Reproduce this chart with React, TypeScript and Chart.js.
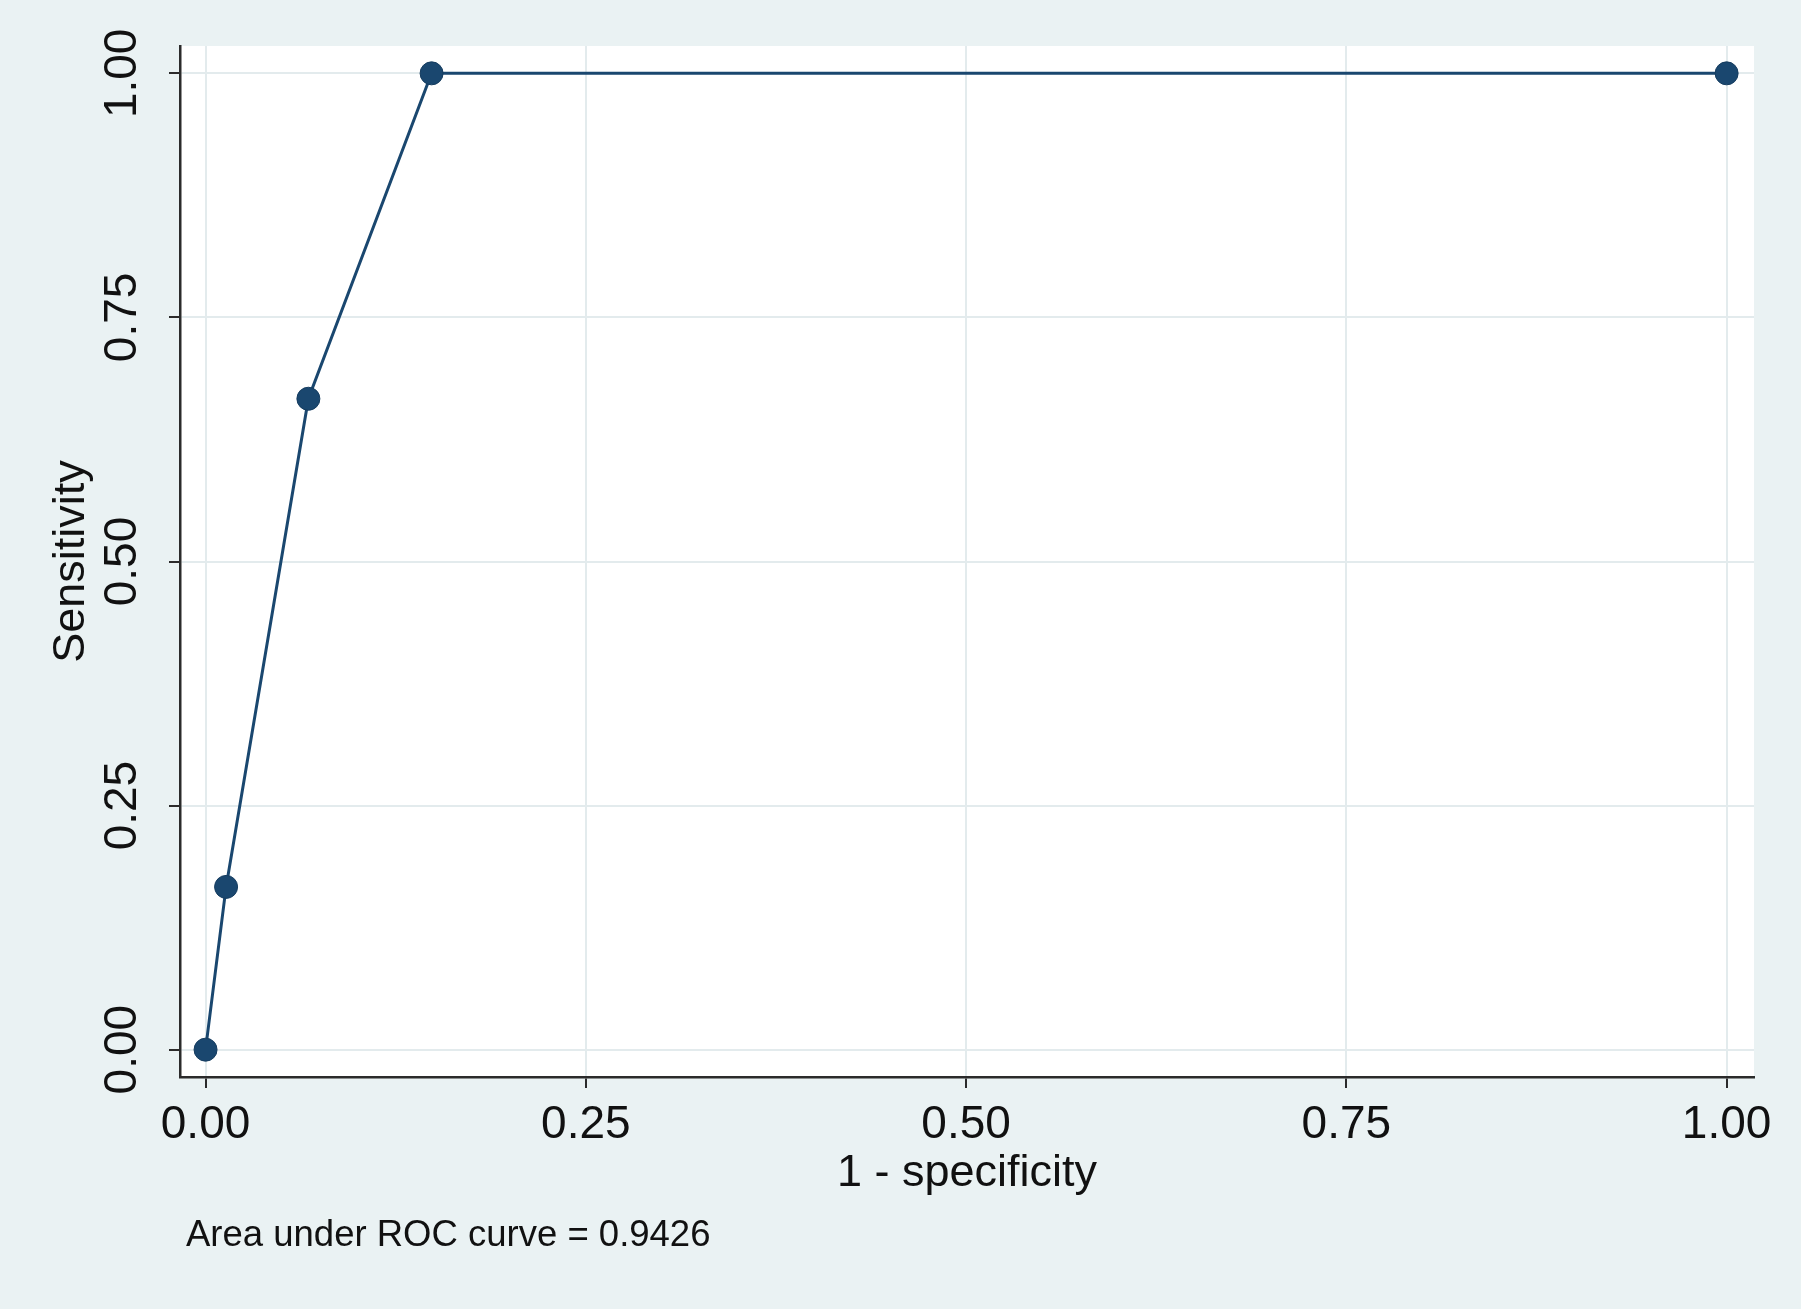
import React, { useEffect, useRef } from 'react';
import { Chart, registerables } from 'chart.js';

Chart.register(...registerables);

// ---- data ----
const falsePositiveRate = [0, 0.0135, 0.0676, 0.1486, 1];
const sensitivity = [0, 0.1667, 0.6667, 1, 1];
const xTicks = [0, 0.25, 0.5, 0.75, 1];
const yTicks = [0, 0.25, 0.5, 0.75, 1];
const xTitle = '1 - specificity';
const yTitle = 'Sensitivity';
const noteText = 'Area under ROC curve = 0.9426';

// ---- style ----
const W = 1801;
const H = 1309;
const BG = '#EAF2F3';
const GRID = '#E3EBED';
const NAVY = '#1A476F';
const AXIS = '#2B2B2B';
const TEXT = '#111111';
const FONT = "'Liberation Sans', Arial, Helvetica, sans-serif";

const backgroundPlugin = {
  id: 'bgPlugin',
  beforeDraw(chart: any) {
    const { ctx, chartArea } = chart;
    ctx.save();
    ctx.fillStyle = BG;
    ctx.fillRect(0, 0, chart.width, chart.height);
    ctx.fillStyle = '#FFFFFF';
    ctx.fillRect(chartArea.left, chartArea.top, chartArea.right - chartArea.left, chartArea.bottom - chartArea.top);
    ctx.restore();
  },
};

const textPlugin = {
  id: 'textPlugin',
  afterDraw(chart: any) {
    const { ctx } = chart;
    const y = chart.scales.y;
    ctx.save();
    ctx.fillStyle = TEXT;
    ctx.font = `46px ${FONT}`;
    ctx.textAlign = 'center';
    ctx.textBaseline = 'middle';
    for (const t of y.ticks) {
      const py = y.getPixelForValue(t.value);
      ctx.save();
      ctx.translate(y.right - 57, py);
      ctx.rotate(-Math.PI / 2);
      ctx.fillText(Number(t.value).toFixed(2), 0, 0);
      ctx.restore();
    }
    ctx.font = `36.5px ${FONT}`;
    ctx.textAlign = 'left';
    ctx.fillText(noteText, chart.chartArea.left + 6, 1236);
    ctx.restore();
  },
};

export default function App() {
  const ref = useRef<HTMLCanvasElement | null>(null);

  useEffect(() => {
    if (!ref.current) return;
    const chart = new Chart(ref.current, {
      type: 'scatter',
      data: {
        datasets: [
          {
            data: falsePositiveRate.map((x, i) => ({ x, y: sensitivity[i] })),
            showLine: true,
            borderColor: NAVY,
            backgroundColor: NAVY,
            pointBackgroundColor: NAVY,
            pointBorderColor: '#163d60',
            pointBorderWidth: 1,
            pointRadius: 11.5,
            borderWidth: 3,
            tension: 0,
          },
        ],
      },
      options: {
        responsive: false,
        animation: false,
        layout: { padding: { top: 46, right: 47, left: 0, bottom: 102 } },
        plugins: {
          legend: { display: false },
          tooltip: { enabled: false },
        },
        scales: {
          x: {
            type: 'linear',
            min: -0.0168,
            max: 1.018,
            afterBuildTicks: (s: any) => {
              s.ticks = xTicks.map((v) => ({ value: v }));
            },
            afterFit: (s: any) => {
              s.height = 130;
            },
            grid: { color: GRID, lineWidth: 2, tickColor: AXIS, tickLength: 11, tickWidth: 2 },
            border: { color: AXIS, width: 2.5 },
            ticks: {
              callback: (v: any) => Number(v).toFixed(2),
              font: { family: FONT, size: 46 },
              color: TEXT,
              padding: 10,
              maxRotation: 0,
              minRotation: 0,
            },
            title: {
              display: true,
              text: xTitle,
              font: { family: FONT, size: 45 },
              color: TEXT,
              padding: { top: 0, bottom: 6 },
            },
          },
          y: {
            type: 'linear',
            min: -0.028,
            max: 1.028,
            afterBuildTicks: (s: any) => {
              s.ticks = yTicks.map((v) => ({ value: v }));
            },
            afterFit: (s: any) => {
              s.width = 180;
            },
            grid: { color: GRID, lineWidth: 2, tickColor: AXIS, tickLength: 11, tickWidth: 2 },
            border: { color: AXIS, width: 2.5 },
            ticks: { display: false },
            title: {
              display: true,
              text: yTitle,
              font: { family: FONT, size: 45 },
              color: TEXT,
              padding: { top: 45, bottom: 0 },
            },
          },
        },
      },
      plugins: [backgroundPlugin, textPlugin],
    });
    return () => chart.destroy();
  }, []);

  return (
    <div style={{ position: 'fixed', left: 0, top: 0, width: W, height: H, background: BG }}>
      <canvas ref={ref} width={W} height={H} style={{ display: 'block' }} />
    </div>
  );
}
